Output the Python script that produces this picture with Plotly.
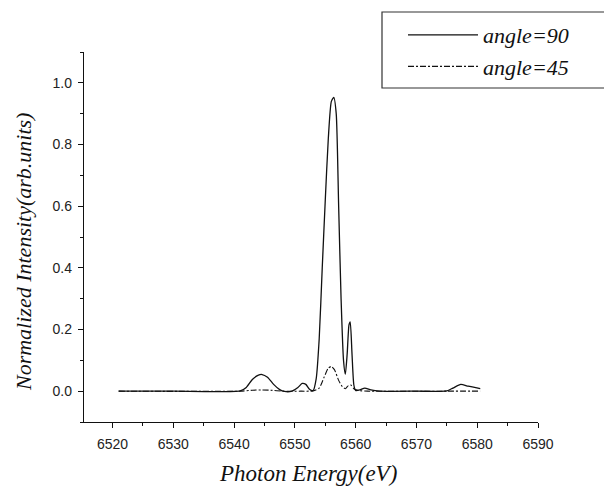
import plotly.graph_objects as go

# angle = 90 (solid)
energy_90 = [6521, 6530, 6541, 6542, 6543, 6544, 6544.6, 6545.5, 6546.5, 6547.5, 6548.3,
             6549.5, 6550.5, 6551.2, 6551.8, 6552.4, 6553.0, 6553.5, 6554.0, 6554.5, 6555.0,
             6555.5, 6556.0, 6556.4, 6556.8, 6557.2, 6557.6, 6558.0, 6558.3, 6558.6, 6558.9,
             6559.1, 6559.4, 6559.7, 6560.0, 6560.7, 6561.5, 6562.5, 6564, 6570, 6575,
             6576, 6577.3, 6578.5, 6580.5]
intensity_90 = [0, 0, 0.001, 0.012, 0.038, 0.052, 0.054, 0.045, 0.022, 0.005, -0.001,
                0.0, 0.012, 0.025, 0.022, 0.006, 0.002, 0.04, 0.17, 0.4, 0.62,
                0.82, 0.94, 0.953, 0.9, 0.6, 0.3, 0.1, 0.055, 0.12, 0.215,
                0.225, 0.12, 0.02, 0.002, 0.004, 0.01, 0.004, 0.0, 0.0, 0.001,
                0.01, 0.022, 0.016, 0.008]

# angle = 45 (dash-dot)
energy_45 = [6521, 6541, 6543, 6544.5, 6546, 6548, 6551, 6553, 6554, 6554.8, 6555.5,
             6556.0, 6556.5, 6557.2, 6557.8, 6558.3, 6558.8, 6559.2, 6559.7, 6560.5,
             6562, 6575, 6580.5]
intensity_45 = [0, 0, 0.003, 0.004, 0.003, 0.0, 0.0, 0.001, 0.01, 0.045, 0.075,
                0.08, 0.07, 0.035, 0.015, 0.008, 0.018, 0.02, 0.008, 0.002,
                0.0, 0.0, 0.0]

x_ticks = [6520, 6530, 6540, 6550, 6560, 6570, 6580, 6590]
y_ticks = [0.0, 0.2, 0.4, 0.6, 0.8, 1.0]

serif = "Liberation Serif, Times New Roman, serif"
sans = "Liberation Sans, Arial, sans-serif"

fig = go.Figure()
fig.add_trace(go.Scatter(x=energy_90, y=intensity_90, mode="lines", name="angle=90",
                         line=dict(color="#111111", width=1.3, shape="spline", smoothing=0.6)))
fig.add_trace(go.Scatter(x=energy_45, y=intensity_45, mode="lines", name="angle=45",
                         line=dict(color="#111111", width=1.1, shape="spline", smoothing=0.6,
                                   dash="6px,2px,2px,2px")))

L, R, T, B = 84, 66, 52, 64
W, H = 604, 486
pw = W - L - R
ph = H - T - B

def px_x(p):
    return (p - L) / pw

def px_y(p):
    return (H - B - p) / ph

fig.update_layout(
    width=W, height=H,
    margin=dict(l=L, r=R, t=T, b=B, autoexpand=False),
    paper_bgcolor="white", plot_bgcolor="white",
    showlegend=True,
    legend=dict(x=px_x(403), y=px_y(14), xanchor="left", yanchor="top",
                bgcolor="rgba(0,0,0,0)", borderwidth=0, itemwidth=70,
                font=dict(family=serif, size=22, color="#111111", style="italic"),
                tracegroupgap=0),
    xaxis=dict(range=[6515.3, 6590], tickvals=x_ticks, ticktext=[str(v) for v in x_ticks],
               showgrid=False, zeroline=False, showline=True, linecolor="#111111", linewidth=1.3,
               ticks="outside", ticklen=5, tickwidth=1.2, tickcolor="#111111",
               minor=dict(dtick=5, ticks="outside", ticklen=3, tickwidth=1, tickcolor="#111111"),
               tickfont=dict(family=sans, size=14, color="#222222"), ticklabelstandoff=4),
    yaxis=dict(range=[-0.1, 1.1], tickvals=y_ticks, ticktext=[f"{v:.1f}" for v in y_ticks],
               showgrid=False, zeroline=False, showline=True, linecolor="#111111", linewidth=1.3,
               ticks="outside", ticklen=5, tickwidth=1.2, tickcolor="#111111",
               minor=dict(dtick=0.1, ticks="outside", ticklen=3, tickwidth=1, tickcolor="#111111"),
               tickfont=dict(family=sans, size=14, color="#222222"), ticklabelstandoff=3),
    shapes=[dict(type="rect", xref="paper", yref="paper",
                 x0=px_x(382), x1=px_x(612), y0=px_y(88), y1=px_y(12),
                 line=dict(color="#333333", width=1.2), fillcolor="rgba(0,0,0,0)")],
    annotations=[
        dict(text="Photon Energy(eV)", xref="paper", yref="paper", x=px_x(308), y=px_y(473),
             xanchor="center", yanchor="middle", showarrow=False,
             font=dict(family=serif, size=23, color="#111111", style="italic")),
        dict(text="Normalized Intensity(arb.units)", xref="paper", yref="paper",
             x=px_x(23), y=px_y(252), xanchor="center", yanchor="middle", textangle=-90,
             showarrow=False, font=dict(family=serif, size=22, color="#111111", style="italic")),
    ],
)

fig.write_html("out.html")
